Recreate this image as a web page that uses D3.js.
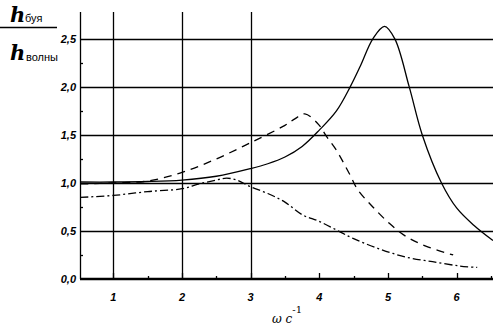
<!DOCTYPE html>
<html>
<head>
<meta charset="utf-8">
<script src="https://cdn.jsdelivr.net/npm/d3@7"></script>
<style>
  body { margin: 0; background: #fff; }
  svg { display: block; }
  .tick_lbl { font-family: "Liberation Sans", Arial, sans-serif; font-weight: bold; font-style: italic; font-size: 11px; }
  .big_h { font-family: "DejaVu Serif", "Liberation Serif", serif; font-style: italic; font-weight: bold; font-size: 21px; }
  .sub_lbl { font-family: "Liberation Sans", Arial, sans-serif; font-size: 11px; }
</style>
</head>
<body>
<div id="chart"></div>
<script>
// curve data
let solid_x = [0.52, 1.0, 1.5, 2.0, 2.5, 3.0, 3.25, 3.5, 3.75, 4.0, 4.25, 4.45, 4.6, 4.78, 4.95, 5.1, 5.31, 5.5, 5.78, 6.0, 6.25, 6.53];
let solid_y = [1.01, 1.01, 1.015, 1.03, 1.07, 1.15, 1.20, 1.27, 1.38, 1.55, 1.75, 2.0, 2.22, 2.5, 2.63, 2.5, 2.0, 1.5, 1.0, 0.74, 0.56, 0.40];

let dash_x = [0.52, 1.0, 1.5, 2.0, 2.5, 3.0, 3.5, 3.65, 3.79, 4.0, 4.1, 4.25, 4.45, 4.56, 4.78, 5.02, 5.27, 5.56, 5.95];
let dash_y = [0.99, 1.0, 1.02, 1.11, 1.25, 1.42, 1.60, 1.67, 1.72, 1.60, 1.49, 1.34, 1.08, 0.93, 0.75, 0.58, 0.44, 0.34, 0.25];

let dashdot_x = [0.52, 1.0, 1.5, 2.0, 2.25, 2.5, 2.65, 2.8, 3.0, 3.25, 3.5, 3.75, 4.0, 4.25, 4.5, 4.85, 5.25, 5.65, 6.05, 6.3];
let dashdot_y = [0.85, 0.87, 0.91, 0.94, 0.99, 1.03, 1.05, 1.03, 0.96, 0.89, 0.80, 0.67, 0.60, 0.51, 0.42, 0.32, 0.23, 0.18, 0.135, 0.12];

let x_ticks = [1, 2, 3, 4, 5, 6];
let x_grid = [1, 2, 3];
let x_minor = [1.5, 2.5, 3.5, 4.5, 5.5, 6.5];
let y_ticks = [0, 0.5, 1.0, 1.5, 2.0, 2.5];
let y_minor = [0.25, 0.75, 1.25, 1.75, 2.25];
let y_tick_labels = ["0,0", "0,5", "1,0", "1,5", "2,0", "2,5"];

let width = 493, height = 332;
let margin = {left: 80, right: 0, top: 12, bottom: 53};

let svg = d3.select("#chart").append("svg")
    .attr("width", width)
    .attr("height", height);

let x = d3.scaleLinear().domain([0.515, 6.53]).range([margin.left, width - margin.right]);
let y = d3.scaleLinear().domain([0, 2.78]).range([height - margin.bottom, margin.top]);

// grid lines
svg.selectAll(".hgrid").data(y_ticks.slice(1)).enter().append("line")
    .attr("x1", margin.left).attr("x2", width)
    .attr("y1", d => Math.round(y(d)) + 0.5).attr("y2", d => Math.round(y(d)) + 0.5)
    .attr("stroke", "#000").attr("stroke-width", 1.3);

svg.selectAll(".vgrid").data(x_grid).enter().append("line")
    .attr("x1", d => Math.round(x(d)) + 0.5).attr("x2", d => Math.round(x(d)) + 0.5)
    .attr("y1", margin.top).attr("y2", y(0))
    .attr("stroke", "#000").attr("stroke-width", 1.3);

// axes
svg.append("line")
    .attr("x1", margin.left + 0.5).attr("x2", margin.left + 0.5)
    .attr("y1", margin.top).attr("y2", y(0))
    .attr("stroke", "#000").attr("stroke-width", 1.3);
svg.append("line")
    .attr("x1", margin.left).attr("x2", width)
    .attr("y1", y(0)).attr("y2", y(0))
    .attr("stroke", "#000").attr("stroke-width", 2.5);

// ticks
svg.selectAll(".xtick").data(x_ticks).enter().append("line")
    .attr("x1", d => Math.round(x(d)) + 0.5).attr("x2", d => Math.round(x(d)) + 0.5)
    .attr("y1", y(0)).attr("y2", y(0) - 6)
    .attr("stroke", "#000").attr("stroke-width", 1.3);
svg.selectAll(".xminor").data(x_minor).enter().append("line")
    .attr("x1", d => Math.round(x(d)) + 0.5).attr("x2", d => Math.round(x(d)) + 0.5)
    .attr("y1", y(0)).attr("y2", y(0) - 3)
    .attr("stroke", "#000").attr("stroke-width", 1.3);
svg.selectAll(".yminor").data(y_minor).enter().append("line")
    .attr("x1", margin.left).attr("x2", margin.left + 3)
    .attr("y1", d => Math.round(y(d)) + 0.5).attr("y2", d => Math.round(y(d)) + 0.5)
    .attr("stroke", "#000").attr("stroke-width", 1.3);

// tick labels
svg.selectAll(".xlbl").data(x_ticks).enter().append("text")
    .attr("class", "tick_lbl")
    .attr("x", d => x(d)).attr("y", y(0) + 22)
    .attr("text-anchor", "middle")
    .text(d => d);
svg.selectAll(".ylbl").data(y_ticks).enter().append("text")
    .attr("class", "tick_lbl")
    .attr("x", margin.left - 4).attr("y", d => y(d) + 4)
    .attr("text-anchor", "end")
    .text((d, i) => y_tick_labels[i]);

// curves
let line = d3.line()
    .x(d => x(d[0])).y(d => y(d[1]))
    .curve(d3.curveCatmullRom);

let series = [
    {xs: solid_x, ys: solid_y, dash: null, w: 1.3},
    {xs: dash_x, ys: dash_y, dash: "8,6", w: 1.3},
    {xs: dashdot_x, ys: dashdot_y, dash: "8,3,2,3", w: 1.3}
];

svg.selectAll(".curve").data(series).enter().append("path")
    .attr("d", d => line(d.xs.map((v, i) => [v, d.ys[i]])))
    .attr("fill", "none")
    .attr("stroke", "#000")
    .attr("stroke-width", d => d.w)
    .attr("stroke-dasharray", d => d.dash);

// y axis title (fraction)
let ylab = svg.append("g");
ylab.append("text").attr("class", "big_h").attr("x", 10).attr("y", 22).text("h");
ylab.append("text").attr("class", "sub_lbl").attr("x", 25).attr("y", 22).text("буя");
ylab.append("line").attr("x1", 0).attr("x2", 57).attr("y1", 27.5).attr("y2", 27.5)
    .attr("stroke", "#000").attr("stroke-width", 1.5);
ylab.append("text").attr("class", "big_h").attr("x", 10).attr("y", 60).text("h");
ylab.append("text").attr("class", "sub_lbl").attr("x", 26).attr("y", 61).text("волны");

// x axis title
let xlab = svg.append("text")
    .attr("x", 272).attr("y", 323)
    .attr("font-family", "'DejaVu Serif', serif")
    .attr("font-style", "italic").attr("font-size", 12);
xlab.append("tspan").text("ω  c");
xlab.append("tspan").attr("dy", -10).attr("font-size", 10).attr("font-style", "normal").text("-1");
</script>
</body>
</html>
